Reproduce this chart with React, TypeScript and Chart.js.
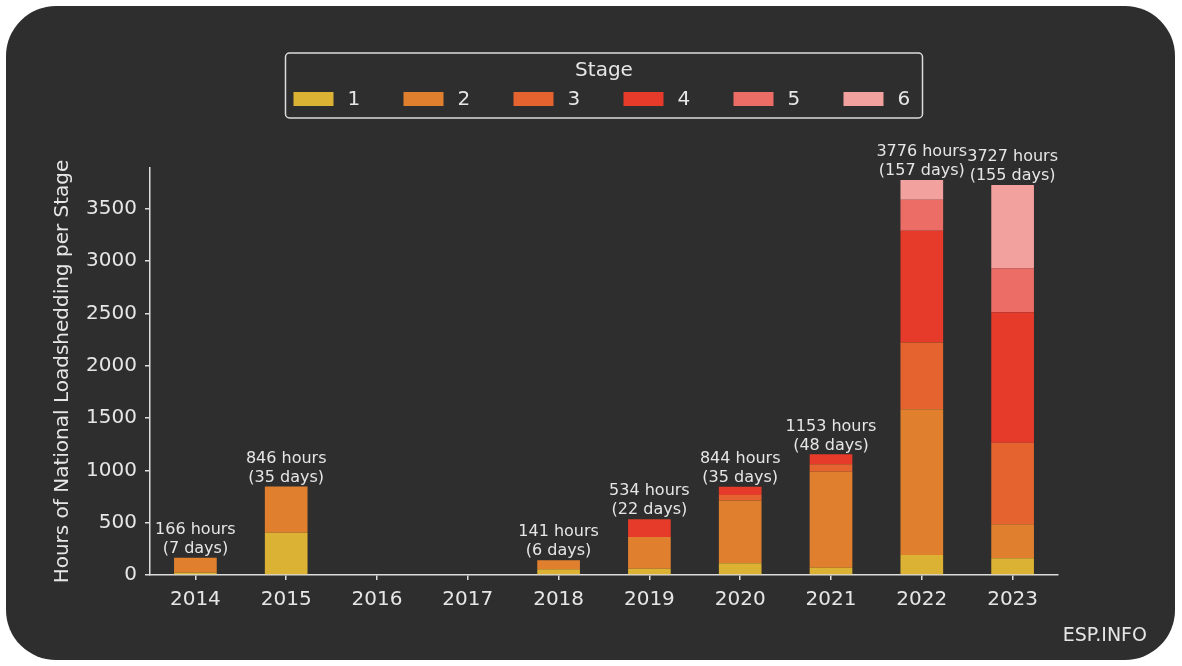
import { useEffect, useRef } from "react";
import { Chart, registerables } from "chart.js";

Chart.register(...registerables);

// ---- data ----
const years = ["2014", "2015", "2016", "2017", "2018", "2019", "2020", "2021", "2022", "2023"];
const stageNames = ["1", "2", "3", "4", "5", "6"];
const stage1 = [25, 405, 0, 0, 55, 60, 112, 70, 191, 160];
const stage2 = [141, 441, 0, 0, 86, 303, 599, 918, 1394, 325];
const stage3 = [0, 0, 0, 0, 0, 0, 54, 70, 637, 780];
const stage4 = [0, 0, 0, 0, 0, 171, 79, 95, 1068, 1247];
const stage5 = [0, 0, 0, 0, 0, 0, 0, 0, 296, 421];
const stage6 = [0, 0, 0, 0, 0, 0, 0, 0, 190, 794];
const stageColors = ["#dbb234", "#e0802f", "#e4632f", "#e63b2b", "#ec6d66", "#f2a19e"];
const yMax = 3890;
const yTicks = [0, 500, 1000, 1500, 2000, 2500, 3000, 3500];

const FONT = "'DejaVu Sans', sans-serif";
const TEXT = "#e6e6e6";
const AXIS = "#dcdcdc";

const overlayPlugin = {
  id: "overlay",
  afterDraw(chart: any) {
    const { ctx, chartArea, scales } = chart;
    const datasets = chart.data.datasets;
    ctx.save();
    // totals above bars
    ctx.font = `16px ${FONT}`;
    ctx.fillStyle = TEXT;
    ctx.textAlign = "center";
    ctx.textBaseline = "middle";
    years.forEach((_, i) => {
      let total = 0;
      datasets.forEach((d: any) => (total += d.data[i]));
      if (total <= 0) return;
      const x = scales.x.getPixelForValue(i);
      const y = scales.y.getPixelForValue(total);
      ctx.fillText(`${total} hours`, x, y - 28);
      ctx.fillText(`(${Math.round(total / 24)} days)`, x, y - 9);
    });

    // legend
    const cx = (chartArea.left + chartArea.right) / 2;
    const bw = 637;
    const bx = cx - bw / 2;
    const by = 53;
    const bh = 65;
    ctx.strokeStyle = AXIS;
    ctx.lineWidth = 1.5;
    ctx.beginPath();
    (ctx as any).roundRect(bx, by, bw, bh, 4);
    ctx.stroke();
    ctx.font = `20px ${FONT}`;
    ctx.fillStyle = TEXT;
    ctx.textAlign = "center";
    ctx.fillText("Stage", cx, by + 18);
    ctx.textAlign = "left";
    datasets.forEach((d: any, k: number) => {
      const sx = bx + 8 + k * 110;
      ctx.fillStyle = d.backgroundColor;
      ctx.fillRect(sx, by + 39, 40, 14);
      ctx.fillStyle = TEXT;
      ctx.fillText(d.label, sx + 54, by + 47);
    });

    // watermark
    ctx.font = `19px ${FONT}`;
    ctx.fillStyle = TEXT;
    ctx.textAlign = "right";
    ctx.fillText("ESP.INFO", 1147, 636);
    ctx.restore();
  },
};

export default function App() {
  const ref = useRef<HTMLCanvasElement>(null);
  useEffect(() => {
    if (!ref.current) return;
    const series = [stage1, stage2, stage3, stage4, stage5, stage6];
    const chart = new Chart(ref.current, {
      type: "bar",
      data: {
        labels: years,
        datasets: series.map((s, k) => ({
          label: stageNames[k],
          data: s,
          backgroundColor: stageColors[k],
          borderWidth: 0,
          barPercentage: 0.47,
          categoryPercentage: 1,
        })),
      },
      options: {
        animation: false,
        responsive: false,
        devicePixelRatio: 1,
        layout: { padding: { left: 0, right: 124, top: 168, bottom: 41 } },
        plugins: { legend: { display: false }, tooltip: { enabled: false } },
        scales: {
          x: {
            stacked: true,
            offset: true,
            afterFit: (s: any) => {
              s.height = 50;
            },
            grid: {
              offset: false,
              drawOnChartArea: false,
              drawTicks: true,
              tickLength: 5,
              color: AXIS,
              lineWidth: 1.5,
            },
            border: { display: true, color: AXIS, width: 1.5 },
            ticks: { color: TEXT, font: { family: FONT, size: 20 }, padding: 8, maxRotation: 0 },
          },
          y: {
            stacked: true,
            min: 0,
            max: yMax,
            afterFit: (s: any) => {
              s.width = 150;
            },
            afterBuildTicks: (s: any) => {
              s.ticks = yTicks.map((v) => ({ value: v }));
            },
            grid: { drawOnChartArea: false, drawTicks: true, tickLength: 5, color: AXIS, lineWidth: 1.5 },
            border: { display: true, color: AXIS, width: 1.5 },
            ticks: {
              color: TEXT,
              font: { family: FONT, size: 20 },
              padding: 8,
              callback: (v: any) => String(v),
            },
            title: {
              display: true,
              text: "Hours of National Loadshedding per Stage",
              color: TEXT,
              font: { family: FONT, size: 20 },
              padding: { top: 51, bottom: 0 },
            },
          },
        },
      },
      plugins: [overlayPlugin],
    });
    return () => chart.destroy();
  }, []);

  return (
    <div style={{ position: "absolute", left: 0, top: 0, width: 1182, height: 666, background: "#ffffff" }}>
      <div
        style={{
          position: "absolute",
          left: 6,
          top: 6,
          width: 1169,
          height: 654,
          background: "#2e2e2e",
          borderRadius: 50,
        }}
      />
      <canvas ref={ref} width={1182} height={666} style={{ position: "absolute", left: 0, top: 0 }} />
    </div>
  );
}
